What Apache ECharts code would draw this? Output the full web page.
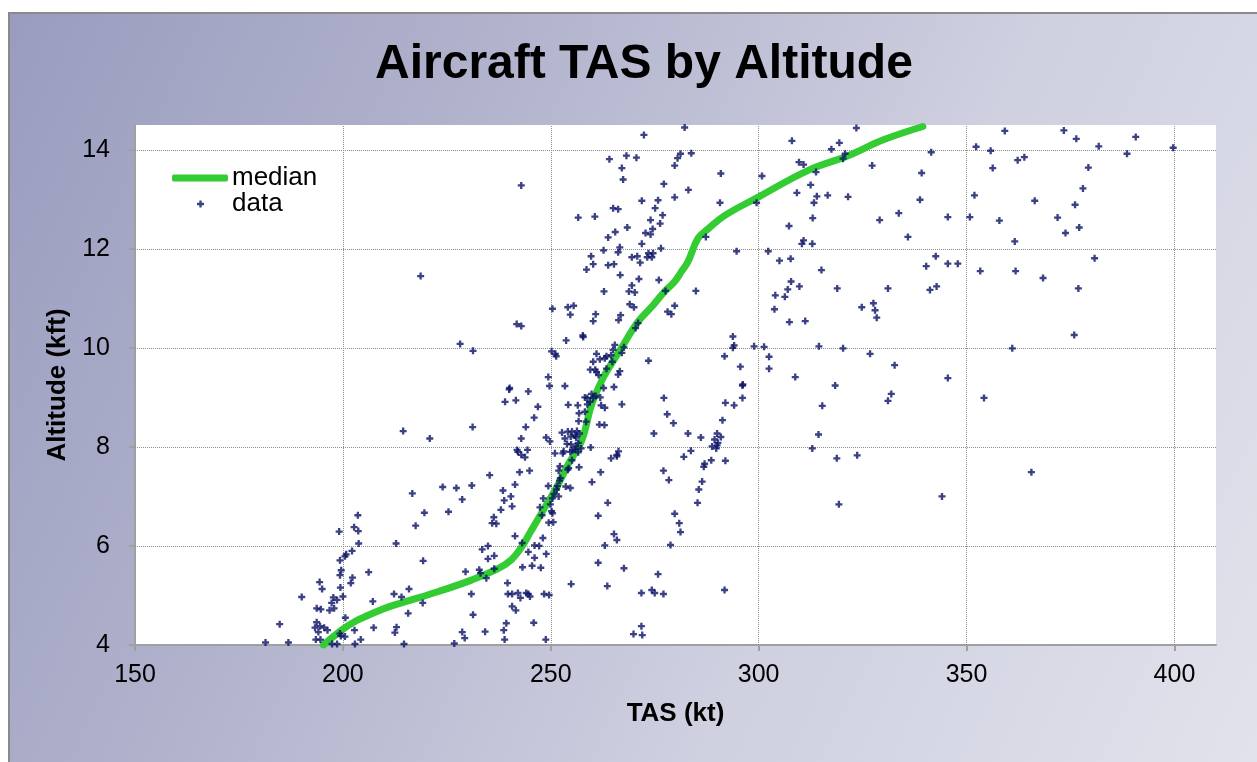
<!DOCTYPE html>
<html><head><meta charset="utf-8">
<script src="https://cdn.jsdelivr.net/npm/echarts@6/dist/echarts.min.js"></script>
<style>
html,body{margin:0;padding:0;width:1257px;height:762px;background:#fff;overflow:hidden;}
#frame{position:absolute;left:8px;top:12px;width:1249px;height:750px;box-sizing:border-box;border-left:2px solid #8a8a8a;border-top:2px solid #8a8a8a;
background:linear-gradient(115deg,#999cbe 0%,#b0b2cc 30%,#cfd0e0 65%,#e1e2eb 100%);}
#chart{position:absolute;left:0;top:0;width:1257px;height:762px;}
</style></head>
<body><div id="frame"></div><div id="chart"></div>
<script>
const xTicks = [150, 200, 250, 300, 350, 400];
const yTicks = [4, 6, 8, 10, 12, 14];
const xGrid = [200, 250, 300, 350, 400];
const yGrid = [6, 8, 10, 12, 14];
const medianTAS = [195.3,199.7,203,206.1,211,216.1,223,230.9,237.3,240.5,243.0,245.3,248.6,251.4,254.2,257.4,259.8,262.2,263.0,267.0,271.0,274.5,277.4,279.8,281.5,283.0,285.4,287.8,291.8,299.8,311.8,321.5,330,339.5];
const medianAlt = [4.0,4.3,4.48,4.6,4.77,4.9,5.08,5.31,5.54,5.72,5.98,6.31,6.78,7.18,7.65,8.12,8.85,9.33,9.46,10.0,10.53,10.85,11.14,11.34,11.55,11.74,12.21,12.40,12.67,13.04,13.58,13.88,14.2,14.47];
const scatterPoints = [
[272.4,14.30],[264.1,13.81],[268.2,13.88],[270.6,13.84],[267.1,13.63],[267.4,13.40],[277.2,13.31],[279.8,13.68],[280.5,13.83],[279.8,13.04],
[242.9,13.28],[271.9,12.97],[275.8,12.98],[275.1,12.82],[265.0,12.82],[266.2,12.80],[256.6,12.63],[260.6,12.65],[276.9,12.68],[274.0,12.58],
[268.4,12.43],[265.5,12.34],[263.8,12.23],[272.8,12.32],[274.5,12.40],[274.0,12.29],[276.3,12.51],[271.9,12.10],[266.6,12.03],[266.2,11.93],
[262.7,11.97],[276.5,12.01],[259.7,11.85],[260.2,11.69],[258.6,11.58],[263.8,11.67],[265.2,11.69],[269.5,11.83],[270.8,11.85],[273.2,11.83],
[273.5,11.91],[274.6,11.91],[274.3,11.83],[271.5,11.72],[266.7,11.47],[271.2,11.39],[276.0,11.37],[269.5,11.26],[268.8,11.14],[270.2,11.12],
[262.8,11.14],[277.6,11.15],[218.7,11.45],[269.0,10.88],[270.0,10.82],[279.8,10.85],[278.1,10.73],[279.0,10.68],[250.4,10.79],[254.1,10.82],
[255.5,10.85],[254.7,10.67],[260.8,10.68],[260.2,10.54],[266.8,10.66],[266.3,10.56],[271.0,10.50],[270.4,10.40],[241.8,10.48],[242.9,10.44],
[257.7,10.25],[257.8,10.22],[253.7,10.15],[228.2,10.08],[231.3,9.94],[250.2,9.93],[251.1,9.88],[251.3,9.83],[265.4,10.06],[267.6,10.01],
[267.1,9.90],[265.0,9.96],[263.4,9.83],[263.0,9.79],[261.0,9.88],[261.8,9.77],[260.2,9.72],[264.8,9.72],[264.5,9.85],[273.5,9.74],
[259.5,9.56],[260.7,9.56],[261.0,9.51],[261.5,9.45],[263.4,9.58],[266.2,9.46],[266.6,9.53],[249.4,9.41],[249.7,9.23],[253.4,9.23],
[282.2,14.45],[323.5,14.44],[308.0,14.18],[281.2,13.92],[283.8,13.93],[317.5,14.01],[319.4,14.14],[320.8,13.92],[320.3,13.82],[309.7,13.75],
[310.8,13.70],[341.5,13.95],[327.3,13.68],[290.9,13.52],[300.8,13.47],[313.8,13.55],[339.2,13.53],[283.1,13.19],[312.5,13.29],[309.2,13.13],
[314.0,13.06],[316.6,13.08],[321.5,13.05],[313.3,12.93],[290.7,12.93],[299.5,12.93],[338.8,12.99],[333.7,12.72],[329.1,12.58],[345.5,12.64],
[313.0,12.62],[307.3,12.46],[335.9,12.24],[287.3,12.24],[310.8,12.17],[310.4,12.10],[312.9,12.10],[294.7,11.95],[302.3,11.95],[305.0,11.76],
[307.7,11.80],[315.1,11.57],[342.6,11.85],[340.3,11.65],[345.5,11.70],[284.9,11.15],[307.8,11.34],[307.0,11.18],[309.8,11.24],[306.3,11.03],
[304.0,11.06],[303.8,10.78],[318.9,11.20],[331.1,11.20],[324.8,10.82],[327.6,10.90],[328.0,10.76],[328.4,10.61],[341.2,11.17],[342.8,11.24],
[307.4,10.52],[311.2,10.54],[293.8,10.23],[294.1,10.05],[293.8,10.00],[298.9,10.03],[301.3,10.02],[291.8,9.83],[302.5,9.82],[302.5,9.58],
[295.6,9.62],[314.5,10.03],[320.3,9.99],[326.8,9.88],[332.7,9.65],[308.8,9.41],[296.2,9.26],[345.5,9.39],[318.4,9.24],
[359.2,14.38],[373.4,14.39],[376.4,14.22],[390.7,14.26],[352.3,14.06],[355.8,13.98],[381.8,14.07],[399.7,14.04],[388.6,13.92],[362.3,13.79],
[363.9,13.85],[356.3,13.63],[379.3,13.64],[378.0,13.22],[351.9,13.08],[366.4,12.97],[376.1,12.89],[350.8,12.64],[357.9,12.57],[371.9,12.63],
[377.1,12.43],[373.8,12.32],[361.6,12.15],[380.8,11.81],[347.9,11.70],[353.3,11.55],[361.8,11.55],[368.4,11.41],[376.9,11.20],[375.9,10.26],
[361.0,9.99],[354.2,8.99],[365.6,7.49],[344.1,7.00],
[296.1,9.24],[296.1,8.99],[292.0,8.89],[294.1,8.84],[291.3,8.54],[283.0,8.27],[286.1,8.19],[290.0,8.27],[290.9,8.20],[289.4,8.15],
[290.2,8.08],[290.0,8.03],[288.8,8.01],[289.8,7.97],[283.7,7.92],[282.0,7.80],[288.6,7.73],[292.0,7.72],[287.0,7.66],[286.8,7.60],
[286.4,7.30],[285.6,7.14],[285.3,6.87],[279.8,6.65],[280.9,6.46],[281.2,6.28],[291.8,5.11],[315.3,8.83],[331.9,9.07],[331.1,8.93],
[314.4,8.25],[312.9,7.97],[318.8,7.77],[323.7,7.83],[319.3,6.84],
[214.5,8.32],[203.6,6.62],[202.7,6.38],[203.7,6.30],[203.8,6.05],[199.1,6.29],[202.2,5.90],[200.8,5.83],[200.5,5.79],[199.3,5.71],
[199.6,5.51],[199.3,5.41],[206.2,5.47],[212.8,6.05],[194.4,5.27],[195.0,5.13],[202.3,5.36],[201.9,5.25],[199.4,5.16],[200.0,4.98],
[190.1,4.97],[197.7,4.96],[198.6,4.91],[197.3,4.85],[196.8,4.70],[197.9,4.74],[193.7,4.74],[194.7,4.72],[207.2,4.88],[212.3,5.03],
[214.1,4.97],[215.9,5.13],[215.7,4.64],[200.6,4.55],[193.7,4.46],[193.3,4.35],[194.5,4.38],[195.5,4.35],[196.3,4.30],[194.1,4.26],
[184.8,4.42],[202.8,4.30],[207.4,4.35],[212.9,4.36],[212.5,4.25],[199.3,4.23],[200.5,4.17],[199.5,4.18],[193.5,4.11],[194.6,4.11],
[204.3,4.11],[181.4,4.05],[186.9,4.05],[197.4,4.02],[198.6,4.02],[202.9,4.02],[214.7,4.02],
[240.1,9.19],[240.0,9.16],[244.6,9.12],[239.0,8.91],[241.6,8.94],[246.9,8.81],[246.0,8.59],[244.0,8.40],[231.2,8.40],[242.9,8.17],
[220.9,8.17],[241.9,7.94],[242.1,7.90],[242.9,7.84],[243.8,7.79],[244.4,7.94],[244.9,7.52],[242.5,7.49],[235.3,7.43],[241.4,7.24],
[224.0,7.19],[227.3,7.17],[231.0,7.22],[216.7,7.06],[228.7,6.94],[238.5,7.12],[240.4,7.00],[238.8,6.92],[240.7,6.80],[238.0,6.73],
[219.6,6.67],[225.4,6.69],[217.5,6.41],[236.3,6.58],[235.9,6.46],[236.9,6.45],[241.4,6.20],[243.1,6.06],[234.9,6.00],[233.5,5.93],
[236.4,5.80],[234.9,5.74],[219.3,5.70],[229.5,5.48],[232.8,5.52],[233.1,5.45],[234.5,5.35],[236.4,5.54],[219.2,4.85],[230.9,5.03],
[231.3,4.61],[239.6,5.25],[239.7,5.03],[240.7,5.03],[242.1,5.05],[242.7,4.95],[244.1,5.05],[244.6,5.03],[245.0,4.98],[240.7,4.78],
[241.6,4.70],[239.3,4.44],[238.7,4.30],[238.9,4.11],[228.7,4.26],[229.3,4.14],[226.8,4.03],[234.2,4.27],[245.9,4.45],[248.8,4.11],
[246.1,6.01],[247.2,6.00],[244.6,5.88],[246.1,5.76],[245.5,5.60],[247.6,5.56],[243.2,5.57],[248.9,5.84],[248.4,5.03],[249.6,5.01],
[248.1,6.16],[249.5,6.47],[250.6,6.48],[247.9,6.62],[247.4,6.78],[249.9,6.84],[250.2,6.70],[250.4,6.66],[248.2,6.96],[250.4,6.96],
[249.4,7.21],[250.8,7.05],[251.4,7.14],[251.9,7.00],[252.1,7.32],[251.6,7.21],[252.3,7.37],[253.6,7.20],[254.7,7.17],[254.3,7.57],
[254.1,7.54],[251.9,7.52],[252.2,7.61],[251.0,7.87],[252.9,7.87],[253.1,7.91],[254.7,7.90],[255.2,7.93],[255.9,7.95],[256.0,8.01],
[256.6,7.89],[256.8,7.59],[257.3,7.97],[255.1,7.73],[248.9,8.19],[249.8,8.11],[252.7,8.29],[254.1,8.31],[255.1,8.31],[256.3,8.32],
[253.4,8.17],[254.8,8.21],[255.8,8.23],[256.6,8.08],[253.9,8.06],[254.9,8.05],[256.1,8.19],[256.9,8.27],[259.6,7.99],[256.7,8.52],
[258.5,8.51],[261.7,8.45],[262.9,8.44],[258.2,8.71],[256.8,8.68],[254.2,8.85],[256.5,8.84],[258.8,8.86],[259.4,8.91],[258.8,8.99],
[258.2,9.00],[259.8,9.07],[260.2,8.99],[260.8,9.03],[261.9,9.00],[262.7,9.19],[265.2,9.21],[262.1,8.84],[263.0,8.79],[267.1,8.86],
[262.0,7.49],[259.9,7.29],[264.5,7.77],[265.9,7.84],[266.3,7.91],[265.9,7.81],[263.7,6.87],[261.4,6.61],[265.2,6.24],[265.9,6.12],
[263.0,6.01],[261.4,5.66],[267.6,5.55],[254.9,5.23],[263.6,5.19],[274.8,8.27],[277.2,8.99],[278.0,8.66],[279.5,8.48],[277.1,7.52],
[278.4,7.33],[278.8,6.02],[275.8,5.43],[271.8,5.05],[274.3,5.11],[275.0,5.05],[277.1,5.03],[271.8,4.38],[272.0,4.20],[269.9,4.22]
];

const plusPath = 'path://M2,0H4V2H6V4H4V6H2V4H0V2H2Z';
const font = 'Liberation Sans, Arial, sans-serif';
const chart = echarts.init(document.getElementById('chart'), null, {renderer: 'canvas'});
const medianData = medianTAS.map((v, i) => [v, medianAlt[i]]);
const gridMarks = xGrid.map(v => ({xAxis: v})).concat(yGrid.map(v => ({yAxis: v})));

chart.setOption({
  backgroundColor: 'transparent',
  animation: false,
  textStyle: {fontFamily: font},
  title: {
    text: 'Aircraft TAS by Altitude',
    left: 370, top: 36,
    textStyle: {fontSize: 48, fontWeight: 'bold', color: '#000', fontFamily: font}
  },
  legend: [{
    data: [{name: 'median', icon: 'roundRect'}],
    left: 167, top: 160, orient: 'vertical',
    itemWidth: 56, itemHeight: 7, itemGap: 0,
    textStyle: {fontSize: 26, color: '#000', fontFamily: font, padding: [0, 0, 0, -1]}
  }, {
    data: [{name: 'data', icon: plusPath}],
    left: 192, top: 186, orient: 'vertical',
    itemWidth: 7, itemHeight: 7,
    textStyle: {fontSize: 26, color: '#000', fontFamily: font, padding: [0, 0, 0, 23]}
  }],
  grid: {left: 135, right: 41, top: 125, bottom: 117, show: true, backgroundColor: '#fff', borderWidth: 0},
  xAxis: {
    type: 'value', min: 150, max: 410, interval: 50,
    name: 'TAS (kt)', nameLocation: 'middle', nameGap: 56,
    nameTextStyle: {fontSize: 26, fontWeight: 'bold', color: '#000', fontFamily: font},
    axisLine: {show: true, onZero: false, lineStyle: {color: '#a0a0a0', width: 2}},
    axisTick: {show: true, inside: false, length: 6, lineStyle: {color: '#a0a0a0', width: 2}, customValues: xTicks},
    axisLabel: {fontSize: 25, color: '#000', margin: 18, fontFamily: font, customValues: xTicks},
    splitLine: {show: false}
  },
  yAxis: {
    type: 'value', min: 4, max: 14.5, interval: 2,
    name: 'Altitude (kft)', nameLocation: 'middle', nameGap: 60,
    nameTextStyle: {fontSize: 26, fontWeight: 'bold', color: '#000', fontFamily: font},
    axisLine: {show: true, onZero: false, lineStyle: {color: '#a0a0a0', width: 2}},
    axisTick: {show: true, length: 6, lineStyle: {color: '#a0a0a0', width: 2}, customValues: yTicks},
    axisLabel: {fontSize: 25, color: '#000', margin: 25, fontFamily: font, customValues: yTicks},
    splitLine: {show: false}
  },
  series: [{
    name: 'median', type: 'line', data: medianData,
    smooth: 0.4, showSymbol: false, symbol: 'none',
    lineStyle: {color: '#33cc33', width: 7, cap: 'round'},
    itemStyle: {color: '#33cc33'},
    z: 3,
    markLine: {
      silent: true, symbol: 'none', label: {show: false},
      lineStyle: {color: '#8c8c8c', type: 'dotted', width: 1},
      data: gridMarks, z: 1
    }
  }, {
    name: 'data', type: 'scatter', data: scatterPoints,
    symbol: plusPath, symbolSize: 7,
    itemStyle: {color: '#0a1264'},
    z: 4
  }]
});
</script></body></html>
